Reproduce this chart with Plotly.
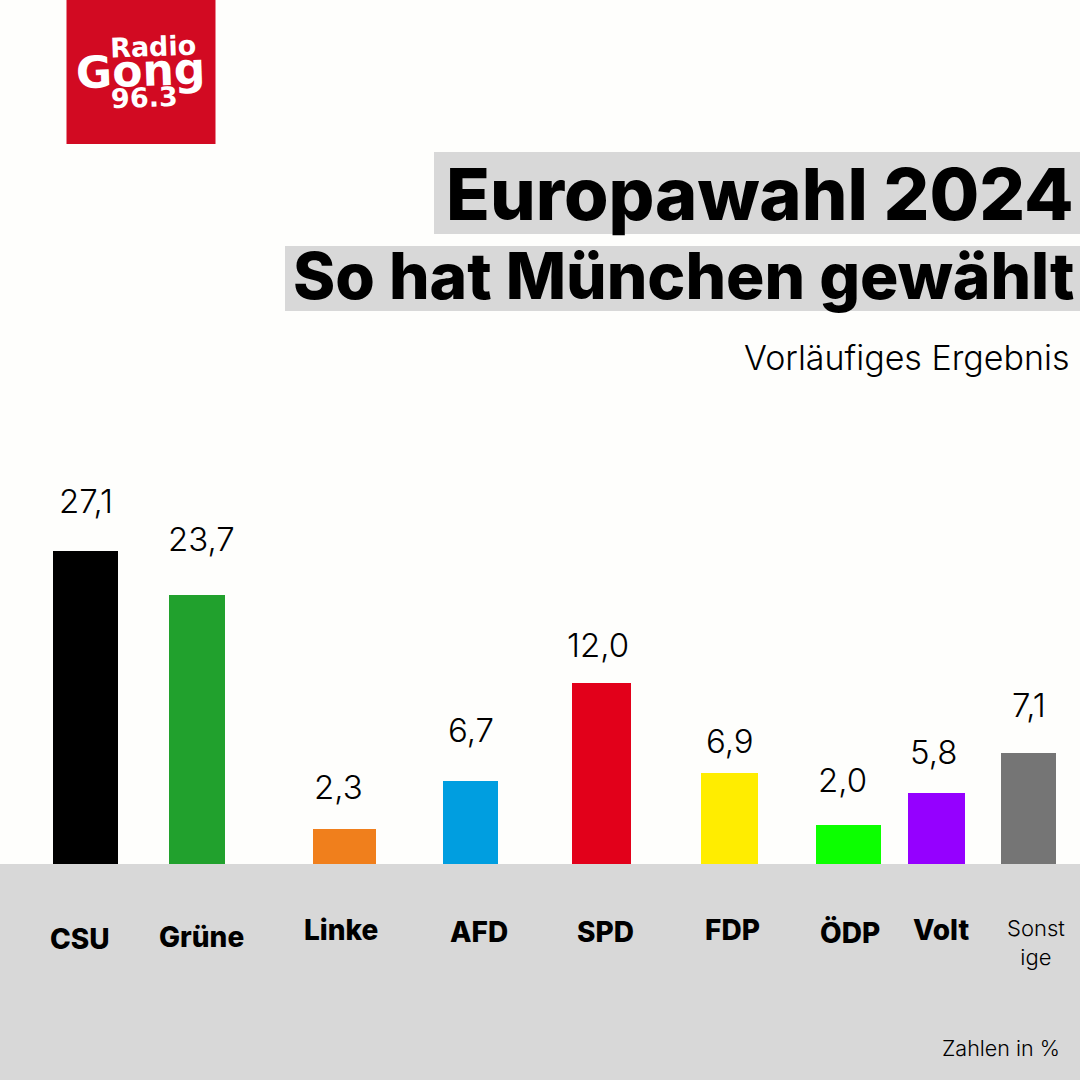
import plotly.graph_objects as go

parties = ["CSU", "Grüne", "Linke", "AFD", "SPD", "FDP", "ÖDP", "Volt", "Sonst<br>ige"]
value_labels = ["27,1", "23,7", "2,3", "6,7", "12,0", "6,9", "2,0", "5,8", "7,1"]
# Bar heights as drawn in the graphic (they are not strictly proportional to the labels)
drawn_heights = [313, 269, 35, 83, 181, 91, 39, 71, 111]
bar_centers = [85.5, 197, 344.5, 470.5, 601.5, 729.5, 848.5, 936.5, 1028.5]
bar_widths = [65, 56, 63, 55, 59, 57, 65, 57, 55]
bar_colors = ["#000000", "#21a12d", "#f07f1c", "#009ee0", "#e2001a", "#ffed00", "#0cff00", "#9500ff", "#757575"]
label_x = [85.5, 201, 338, 471, 597.5, 730, 842, 933, 1029]
label_y = [501, 539, 787, 730, 645, 741, 780, 752, 705]
name_x = [80, 201, 341, 479, 605, 732, 850, 941, 1036]
name_y = [939, 937, 930, 932, 932, 930, 933, 930, 942]

FONT = "Inter"
BASE = 864

fig = go.Figure(go.Bar(
    x=bar_centers, y=drawn_heights, width=bar_widths,
    marker=dict(color=bar_colors, line=dict(width=0)),
    text=None, hoverinfo="skip",
))

shapes = [
    dict(type="rect", xref="x", yref="y", x0=0, x1=1080, y0=-216, y1=0, fillcolor="#d8d8d8", line_width=0, layer="below"),
    dict(type="rect", xref="x", yref="y", x0=66.5, x1=215.5, y0=BASE-144, y1=BASE, fillcolor="#d20a22", line_width=0, layer="below"),
    dict(type="rect", xref="x", yref="y", x0=434, x1=1080, y0=BASE-234, y1=BASE-152, fillcolor="#d8d8d8", line_width=0, layer="below"),
    dict(type="rect", xref="x", yref="y", x0=285, x1=1080, y0=BASE-311, y1=BASE-246, fillcolor="#d8d8d8", line_width=0, layer="below"),
]

def note(x, y, text, size, anchor="center", weight=400, color="#000000", family=FONT, angle=0):
    return dict(xref="x", yref="y", x=x, y=BASE - y, text=text,
                showarrow=False, xanchor=anchor, yanchor="middle", textangle=angle,
                font=dict(family=family, size=size, color=color, weight=weight))

annotations = [
    note(1076, 193, "Europawahl 2024", 72, "right", 800),
    note(1077, 275, "So hat München gewählt", 64, "right", 800),
    note(1072, 357, "Vorläufiges Ergebnis", 34, "right", 300),
    note(1062, 1048, "Zahlen in %", 21.5, "right", 300),
    note(153, 46, "Radio", 27, weight=700, color="#ffffff", family="DejaVu Sans", angle=-2),
    note(140.5, 70, "Gong", 44, weight=700, color="#ffffff", family="DejaVu Sans", angle=-2),
    note(144, 97, "96.3", 27, weight=700, color="#ffffff", family="DejaVu Sans", angle=-2),
]
for lx, ly, lab in zip(label_x, label_y, value_labels):
    annotations.append(note(lx, ly, lab, 33, weight=300))
for n, nx, ny in zip(parties, name_x, name_y):
    if "<br>" in n:
        annotations.append(note(nx, ny, n, 22, weight=300))
    else:
        annotations.append(note(nx, ny, n, 28, weight=800))

fig.update_layout(
    width=1080, height=1080, margin=dict(l=0, r=0, t=0, b=0),
    paper_bgcolor="#fefefc", plot_bgcolor="#fefefc", showlegend=False,
    xaxis=dict(range=[0, 1080], visible=False, fixedrange=True),
    yaxis=dict(range=[-216, 864], visible=False, fixedrange=True),
    shapes=shapes, annotations=annotations,
)
fig.write_html("out.html", config={"displayModeBar": False},
               post_script="document.body.style.margin='0';document.documentElement.style.overflow='hidden';")
